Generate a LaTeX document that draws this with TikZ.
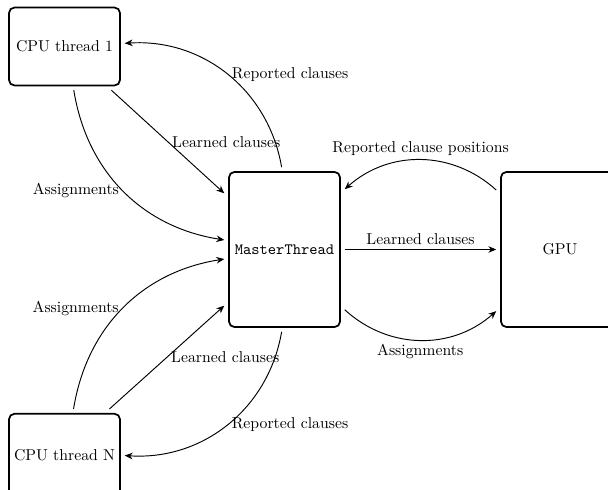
\documentclass[tikz,border=0pt]{standalone}
\usetikzlibrary{arrows.meta}
\begin{document}
\begin{tikzpicture}[x=0.635pt,y=-0.635pt,
  box/.style={draw,line width=1.1pt,rounded corners=3.5pt,minimum width=70.5pt,outer sep=3pt,inner sep=0pt},
  small/.style={box,minimum height=49.5pt},
  tall/.style={box,minimum height=98.5pt},
  conn/.style={-{Stealth[length=5pt,width=4.2pt,inset=1.6pt]},line width=0.6pt},
  lbl/.style={inner sep=2.5pt}]
\clip (0,0) rectangle (608,490);
\node[small] (c1) at (64.5,46.5) {CPU thread 1};
\node[small,minimum height=53pt] (cN) at (64.5,455.5) {CPU thread N};
\node[tall] (m) at (284.5,249.5) {\texttt{MasterThread}};
\node[tall,minimum width=75pt] (g) at (560,249.5) {GPU};
% CPU thread 1
\draw[conn] (c1.-43.5) -- node[lbl,right]{Learned clauses} (m.137);
\draw[conn] (c1.-78) to[bend right=36] node[lbl,left]{Assignments} (m.171);
\draw[conn] (m.92) to[bend right=42] node[lbl,right]{Reported clauses} (c1.3);
% CPU thread N
\draw[conn] (cN.46) -- node[lbl,right]{Learned clauses} (m.-137);
\draw[conn] (cN.79) to[bend left=36] node[lbl,left]{Assignments} (m.-171);
\draw[conn] (m.-92) to[bend left=42] node[lbl,right]{Reported clauses} (cN.-0.5);
% GPU
\draw[conn] (m.east) -- node[lbl,above]{Learned clauses} (g.west);
\draw[conn] (g.137) to[bend right=42] node[lbl,above]{Reported clause positions} (m.45);
\draw[conn] (m.-45) to[bend right=42] node[lbl,below]{Assignments} (g.-136);
\end{tikzpicture}
\end{document}
